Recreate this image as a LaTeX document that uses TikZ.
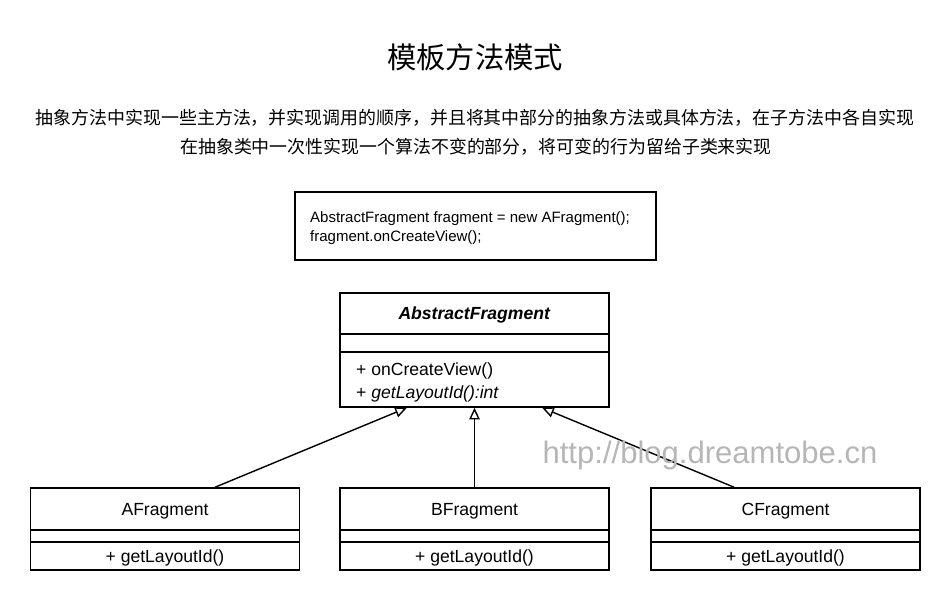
\documentclass[tikz,border=0pt]{standalone}
\usepackage{fontspec}
\setmainfont{Liberation Sans}
\newfontfamily\cjk{Noto Sans CJK SC}
\usetikzlibrary{arrows.meta,calc}
\definecolor{markgray}{RGB}{182,182,182}
\newcommand\umlfont{\fontsize{15}{19.5}\selectfont}

\tikzset{
  box/.style={draw, line width=1.3pt, inner sep=0pt, minimum width=8.07cm, font=\umlfont, text height=10.7pt, text depth=0pt},
  inherit/.style={-{Triangle[open,length=10pt,width=9pt]}, line width=1.2pt},
}

\begin{document}
\begin{tikzpicture}[x=0.03cm, y=-0.03cm]
		\useasboundingbox (0,0) rectangle (951,600);
		% title and description
		\node (title) at (475,57) {\cjk\fontsize{25}{30}\selectfont 模板方法模式};
		\node (desc1) at (475,118) {\cjk\fontsize{15.3}{20}\selectfont 抽象方法中实现一些主方法，并实现调用的顺序，并且将其中部分的抽象方法或具体方法，在子方法中各自实现};
		\node (desc2) at (476,147) {\cjk\fontsize{15.3}{20}\selectfont 在抽象类中一次性实现一个算法不变的部分，将可变的行为留给子类来实现};
		% client code
		\node[draw, line width=1.3pt, minimum width=10.83cm, minimum height=2.04cm] (code) at (475.5,226) {};
		\node[anchor=west, align=left, inner sep=0pt, font=\fontsize{12.8}{16.2}\selectfont] (codetext) at (310,228.5) {AbstractFragment fragment = new AFragment();\\fragment.onCreateView();};
		% abstract class
		\node[box, minimum height=1.23cm] (absname) at (474.5,313.5) {\textbf{\textit{AbstractFragment}}};
		\node[box, minimum height=0.54cm] (absattr) at (474.5,343) {};
		\node[box, minimum height=1.65cm] (absops) at (474.5,379.5) {};
		\node[anchor=west, align=left, inner sep=0pt, font=\umlfont] (absopstext) at (356,382.5) {+ onCreateView()\\+ \textit{getLayoutId():int}};
		% subclasses
		\foreach \n/\x in {A/165, B/474.5, C/785.5}
		{
			\node[box, minimum height=1.26cm] (\n-name) at (\x,509) {\n Fragment};
			\node[box, minimum height=0.36cm] (\n-attr) at (\x,536) {};
			\node[box, minimum height=0.84cm] (\n-ops) at (\x,556) {+ getLayoutId()};
		}
		\draw[inherit] ($(A-name.north west)!0.685!(A-name.north east)$) -- ($(absops.south west)!0.25!(absops.south east)$);
		\draw[inherit] (B-name.north) -- (absops.south);
		\draw[inherit] ($(C-name.north west)!0.31!(C-name.north east)$) -- ($(absops.south west)!0.75!(absops.south east)$);
		% watermark
		\node[text=markgray, font=\fontsize{26.5}{30}\selectfont] (mark) at (710,455) {http://blog.dreamtobe.cn};
	\end{tikzpicture}
\end{document}
